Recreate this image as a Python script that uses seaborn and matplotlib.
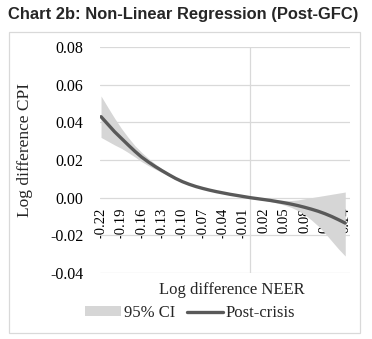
import numpy as np
import pandas as pd
import matplotlib
matplotlib.use("Agg")
import matplotlib.pyplot as plt
from matplotlib.patches import Patch, Rectangle
from matplotlib.lines import Line2D
import seaborn as sns

# ---- data ----
neer = [-0.22, -0.21, -0.20, -0.19, -0.18, -0.17, -0.16, -0.15, -0.14, -0.13,
        -0.12, -0.11, -0.10, -0.09, -0.08, -0.07, -0.06, -0.05, -0.04, -0.03,
        -0.02, -0.01, 0.00, 0.01, 0.02, 0.03, 0.04, 0.05, 0.06, 0.07,
        0.08, 0.09, 0.10, 0.11, 0.12, 0.13, 0.14]
post_crisis = [0.0430, 0.0390, 0.0350, 0.0315, 0.0280, 0.0246, 0.0215, 0.0189, 0.0165, 0.0143,
               0.0122, 0.0102, 0.0085, 0.0071, 0.0059, 0.0049, 0.0040, 0.0032, 0.0025, 0.0018,
               0.0012, 0.0006, 0.0000, -0.0005, -0.0010, -0.0015, -0.0021, -0.0027, -0.0034, -0.0042,
               -0.0051, -0.0061, -0.0072, -0.0085, -0.0100, -0.0117, -0.0135]
ci_upper = [0.0540, 0.0480, 0.0422, 0.0368, 0.0320, 0.0276, 0.0240, 0.0208, 0.0179, 0.0153,
            0.0130, 0.0108, 0.0090, 0.0075, 0.0062, 0.0052, 0.0042, 0.0034, 0.0027, 0.0020,
            0.0014, 0.0008, 0.0003, -0.0002, -0.0006, -0.0009, -0.0012, -0.0014, -0.0015, -0.0012,
            -0.0006, 0.0000, 0.0006, 0.0012, 0.0018, 0.0024, 0.0030]
ci_lower = [0.0320, 0.0300, 0.0280, 0.0262, 0.0240, 0.0216, 0.0191, 0.0170, 0.0151, 0.0133,
            0.0114, 0.0096, 0.0080, 0.0067, 0.0056, 0.0046, 0.0038, 0.0030, 0.0023, 0.0016,
            0.0010, 0.0004, -0.0004, -0.0009, -0.0014, -0.0021, -0.0029, -0.0039, -0.0051, -0.0068,
            -0.0090, -0.0118, -0.0150, -0.0188, -0.0230, -0.0272, -0.0310]
x_ticks = [-0.22, -0.19, -0.16, -0.13, -0.10, -0.07, -0.04, -0.01, 0.02, 0.05, 0.08, 0.11, 0.14]
x_tick_labels = ["-0.22", "-0.19", "-0.16", "-0.13", "-0.10", "-0.07", "-0.04",
                 "-0.01", "0.02", "0.05", "0.08", "0.11", "0.14"]
y_ticks = [-0.04, -0.02, 0.00, 0.02, 0.04, 0.06, 0.08]
y_tick_labels = ["-0.04", "-0.02", "0.00", "0.02", "0.04", "0.06", "0.08"]

df = pd.DataFrame({"NEER": neer, "CPI": post_crisis, "lo": ci_lower, "hi": ci_upper})

sns.set_style("white")
serif = ["Liberation Serif", "DejaVu Serif"]
plt.rcParams["font.family"] = serif

W, H = 372, 339
fig = plt.figure(figsize=(W / 100, H / 100), dpi=100)
ax = fig.add_axes([100 / W, 1 - 273 / H, 250 / W, 226 / H])

grid_c = "#d9d9d9"
band_c = "#d6d6d6"
line_c = "#595959"

# move the category axis to the zero line first (this resets ticks)
for s in ["top", "right", "left"]:
    ax.spines[s].set_visible(False)
ax.spines["bottom"].set_position(("data", 0))
ax.spines["bottom"].set_visible(False)

ax.fill_between(df["NEER"], df["lo"], df["hi"], color=band_c, lw=0, zorder=2)
sns.lineplot(data=df, x="NEER", y="CPI", ax=ax, color=line_c, lw=2.4,
             zorder=3, legend=False)

ax.set_xlim(-0.2215, 0.147)
ax.set_ylim(-0.04, 0.08)
ax.set_yticks(y_ticks)
ax.set_yticklabels(y_tick_labels)
ax.set_xticks(x_ticks)
ax.set_xticklabels(x_tick_labels)
ax.grid(axis="y", color=grid_c, lw=0.9, zorder=0)
ax.grid(axis="x", visible=False)
ax.axvline(0, color=grid_c, lw=0.9, zorder=1)
ax.tick_params(axis="y", length=0, pad=12, labelsize=11.5, colors="black")
ax.tick_params(axis="x", length=0, pad=7, labelsize=10.5, colors="black",
               labelrotation=90)
ax.set_facecolor("white")

ax.set_xlabel("Log difference NEER", fontsize=12)
ax.xaxis.set_label_coords((232 - 100) / 250, (273 - 282) / 226)
ax.set_ylabel("Log difference CPI", fontsize=12.5)
ax.yaxis.set_label_coords((33 - 100) / 250, (273 - 150) / 226)

handles = [Patch(facecolor=band_c, edgecolor="none", label="95% CI"),
           Line2D([0], [0], color=line_c, lw=2.4, label="Post-crisis")]
fig.legend(handles=handles, loc="center", bbox_to_anchor=(190 / W, 1 - 313 / H),
           ncol=2, frameon=False, fontsize=12, handlelength=2.2, handleheight=0.5,
           columnspacing=0.7, handletextpad=0.15, borderaxespad=0)

fig.text(8 / W, 1 - 14 / H, "Chart 2b: Non-Linear Regression (Post-GFC)",
         fontsize=11.9, fontweight="bold", family=["Liberation Sans", "DejaVu Sans"],
         ha="left", va="center")

fig.patches.append(Rectangle((9 / W, 1 - 333 / H), 351 / W, 301 / H,
                             transform=fig.transFigure, fill=False,
                             ec=grid_c, lw=0.9))

fig.savefig("out.png", dpi=100)
